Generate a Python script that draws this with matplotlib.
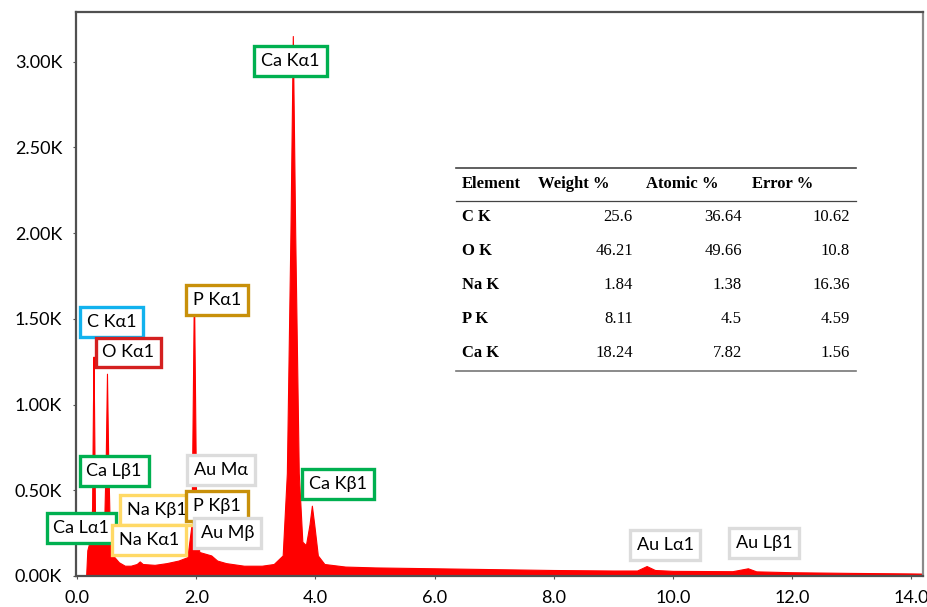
import matplotlib.pyplot as plt
from matplotlib.lines import Line2D
from matplotlib.ticker import FuncFormatter

# EDS spectrum: energy (keV) and counts
energy = [0.15, 0.17, 0.20, 0.23, 0.25, 0.265, 0.275, 0.285, 0.30, 0.33, 0.36, 0.40,
          0.45, 0.48, 0.50, 0.52, 0.55, 0.60, 0.70, 0.80, 0.90, 1.00, 1.05, 1.10,
          1.30, 1.50, 1.70, 1.85, 1.92, 1.96, 2.00, 2.05, 2.15, 2.25, 2.35, 2.50,
          2.80, 3.10, 3.30, 3.45, 3.52, 3.58, 3.62, 3.66, 3.72, 3.78, 3.84, 3.90,
          3.94, 3.98, 4.04, 4.15, 4.50, 5.0, 6.0, 7.0, 8.0, 9.0, 9.4, 9.56, 9.7,
          10.0, 11.0, 11.26, 11.4, 12.0, 13.0, 14.0, 14.2]
counts = [0, 150, 190, 230, 400, 1000, 1280, 900, 300, 220, 250, 200,
          260, 700, 1180, 700, 220, 120, 80, 60, 60, 70, 85, 70,
          65, 75, 90, 110, 300, 1700, 300, 140, 130, 120, 90, 75,
          60, 60, 70, 120, 600, 2000, 3150, 2000, 600, 200, 180, 300,
          410, 300, 120, 70, 55, 50, 45, 40, 35, 32, 32, 58, 35,
          30, 28, 45, 27, 22, 18, 15, 14]

# peak labels: text, x, y, edge colour
labels = ['Ca Kα1', 'C Kα1', 'O Kα1', 'P Kα1', 'Ca Lβ1', 'Au Mα', 'Ca Kβ1',
          'Na Kβ1', 'P Kβ1', 'Ca Lα1', 'Na Kα1', 'Au Mβ', 'Au Lα1', 'Au Lβ1']
label_x = [3.58, 0.58, 0.86, 2.35, 0.62, 2.42, 4.38, 1.33, 2.35, 0.07, 1.21, 2.53, 9.87, 11.53]
label_y = [3003, 1482, 1304, 1608, 614, 620, 538, 386, 409, 281, 210, 251, 181, 193]
green, blue, red, gold, yellow, grey = '#00b050', '#12b2ee', '#d42020', '#c8900a', '#ffd966', '#dcdcdc'
label_col = [green, blue, red, gold, green, grey, green, yellow, gold, green, yellow, grey, grey, grey]

# quantification table
elements = ['C K', 'O K', 'Na K', 'P K', 'Ca K']
weight = ['25.6', '46.21', '1.84', '8.11', '18.24']
atomic = ['36.64', '49.66', '1.38', '4.5', '7.82']
error = ['10.62', '10.8', '16.36', '4.59', '1.56']

W, H = 927, 607
fig = plt.figure(figsize=(W / 100, H / 100), dpi=100)
ax = fig.add_axes([76 / W, 1 - 576 / H, (923 - 76) / W, (576 - 12) / H])

ax.fill_between(energy, counts, 0, color='#ff0000', lw=0.8, edgecolor='#ff0000')
ax.set_xlim(-0.02, 14.2)
ax.set_ylim(0, 3290)
ax.set_xticks([0, 2, 4, 6, 8, 10, 12, 14])
ax.set_yticks([0, 500, 1000, 1500, 2000, 2500, 3000])
ax.xaxis.set_major_formatter(FuncFormatter(lambda v, p: f'{v:.1f}'))
ax.yaxis.set_major_formatter(FuncFormatter(lambda v, p: f'{v / 1000:.2f}K'))
ax.tick_params(labelsize=13, length=2, width=0.8, colors='#555555', labelcolor='black', pad=8)
for lab in ax.get_xticklabels() + ax.get_yticklabels():
    lab.set_fontfamily('Lato')
for s in ax.spines.values():
    s.set_color('#505050')
    s.set_linewidth(1.6)
ax.spines['right'].set_color('#8a8a8a')

for t, x, y, c in zip(labels, label_x, label_y, label_col):
    ax.text(x, y, t, ha='center', va='center', fontsize=13, family='Lato', zorder=5,
            bbox=dict(boxstyle='square,pad=0.38', fc='white', ec=c, lw=2.4))

# table
def fx(px):
    return px / W

def fy(py):
    return 1 - py / H

fig.add_artist(Line2D([fx(456), fx(856)], [fy(168), fy(168)], color='#444444', lw=1.2))
fig.add_artist(Line2D([fx(456), fx(856)], [fy(201), fy(201)], color='#444444', lw=0.9))
fig.add_artist(Line2D([fx(456), fx(856)], [fy(371), fy(371)], color='#777777', lw=1.2))
tk = dict(family='Liberation Serif', fontsize=12, va='center')
fig.text(fx(462), fy(184), 'Element', weight='bold', ha='left', **tk)
fig.text(fx(538), fy(184), 'Weight %', weight='bold', ha='left', **tk)
fig.text(fx(646), fy(184), 'Atomic %', weight='bold', ha='left', **tk)
fig.text(fx(752), fy(184), 'Error %', weight='bold', ha='left', **tk)
for i in range(len(elements)):
    yy = fy(217 + 34 * i)
    fig.text(fx(462), yy, elements[i], weight='bold', ha='left', **tk)
    fig.text(fx(633), yy, weight[i], ha='right', **tk)
    fig.text(fx(742), yy, atomic[i], ha='right', **tk)
    fig.text(fx(850), yy, error[i], ha='right', **tk)

fig.savefig('out.png', dpi=100)
